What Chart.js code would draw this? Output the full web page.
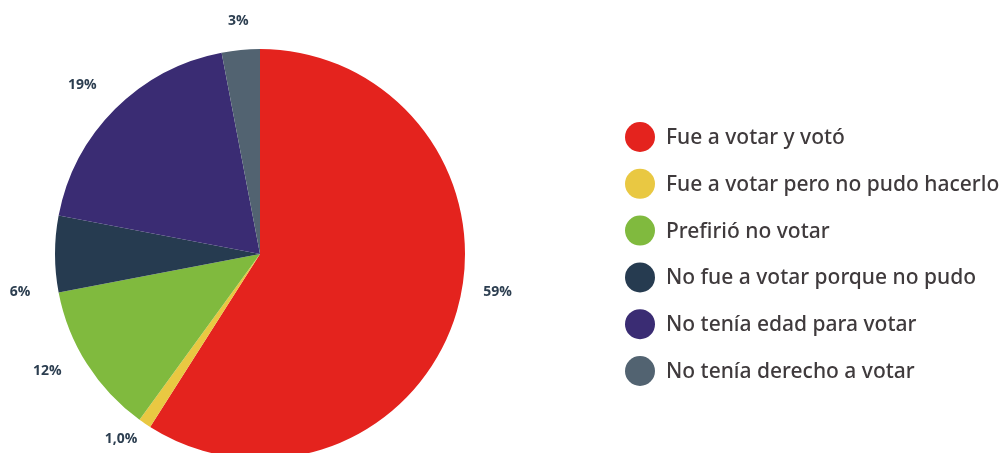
<!DOCTYPE html>
<html>
<head>
<meta charset="utf-8">
<script src="https://cdn.jsdelivr.net/npm/chart.js@4/dist/chart.umd.min.js"></script>
<style>
  html, body { margin: 0; padding: 0; background: #fff; overflow: hidden; }
  #wrap { width: 1003px; height: 508px; }
</style>
</head>
<body>
<div id="wrap"><canvas id="votopie"></canvas></div>
<script>
var categorias = [
  "Fue a votar y votó",
  "Fue a votar pero no pudo hacerlo",
  "Prefirió no votar",
  "No fue a votar porque no pudo",
  "No tenía edad para votar",
  "No tenía derecho a votar"
];
var valores = [59, 1.0, 12, 6, 19, 3];
var etiquetas = ["59%", "1,0%", "12%", "6%", "19%", "3%"];
var colores = ["#E4231E", "#E9C842", "#80BA3E", "#263B50", "#3A2C73", "#526371"];

// small nudges so the outside labels sit where the original put them
var nudges = [[7, -29], [-4, -13], [-10, -12], [0, 38], [-8, 1], [1, 6]];

var outsideLabels = {
  id: 'outsideLabels',
  afterDatasetsDraw: function(chart) {
    var ctx = chart.ctx;
    var arcs = chart.getDatasetMeta(0).data;
    ctx.save();
    ctx.font = 'bold 14px "Open Sans", sans-serif';
    ctx.fillStyle = '#2C3E50';
    ctx.textAlign = 'center';
    ctx.textBaseline = 'middle';
    arcs.forEach(function(arc, i) {
      var mid = (arc.startAngle + arc.endAngle) / 2;
      var d = arc.outerRadius + 35;
      var x = arc.x + Math.cos(mid) * d + nudges[i][0];
      var y = arc.y + Math.sin(mid) * d + nudges[i][1];
      ctx.fillText(etiquetas[i], x, y);
    });
    ctx.restore();
  }
};

var sideLegend = {
  id: 'sideLegend',
  afterDraw: function(chart) {
    var ctx = chart.ctx;
    ctx.save();
    ctx.font = '500 21px "Noto Sans", sans-serif';
    ctx.textBaseline = 'middle';
    ctx.textAlign = 'left';
    categorias.forEach(function(c, i) {
      var y = 137 + i * 46.8;
      ctx.beginPath();
      ctx.arc(640, y, 15, 0, Math.PI * 2);
      ctx.fillStyle = colores[i];
      ctx.fill();
      ctx.fillStyle = '#3F3A3C';
      ctx.fillText(c, 666, y + 1);
    });
    ctx.restore();
  }
};

var ctx = document.getElementById("votopie").getContext("2d");
var votopie = new Chart(ctx, {
  type: 'pie',
  data: {
    labels: categorias,
    datasets: [{
      data: valores,
      backgroundColor: colores,
      borderWidth: 0
    }]
  },
  options: {
    responsive: true,
    maintainAspectRatio: false,
    animation: false,
    layout: { padding: { left: 55, right: 538, top: 49, bottom: 49 } },
    plugins: {
      legend: { display: false },
      tooltip: { enabled: false }
    }
  },
  plugins: [outsideLabels, sideLegend]
});
</script>
</body>
</html>
